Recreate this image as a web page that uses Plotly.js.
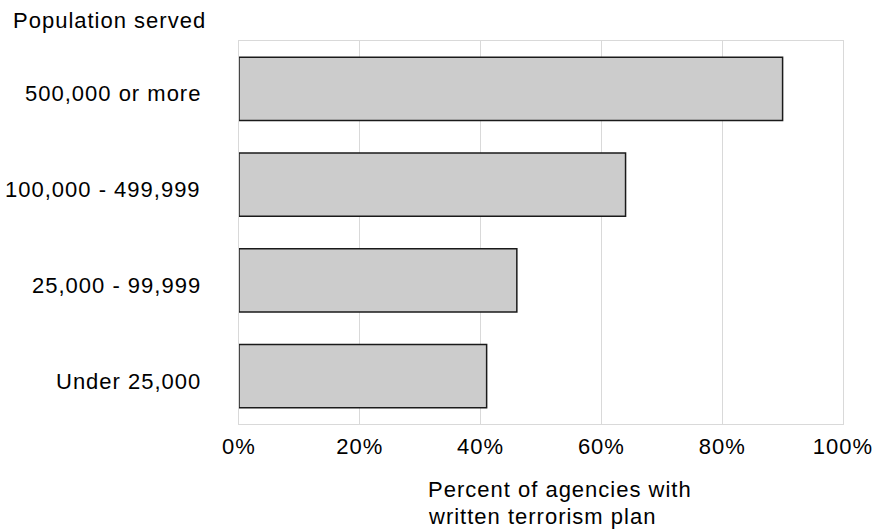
<!DOCTYPE html>
<html>
<head>
<meta charset="utf-8">
<script src="https://cdn.plot.ly/plotly-3.0.1.min.js"></script>
<style>
html,body{margin:0;padding:0;background:#fff;}
svg text{letter-spacing:1px;}
</style>
</head>
<body>
<div id="chart" style="width:874px;height:529px;"></div>
<script>
const categories = ["500,000 or more", "100,000 - 499,999", "25,000 - 99,999", "Under 25,000"];
const percentWithPlan = [90, 64, 46, 41];
const xTickValues = [0, 20, 40, 60, 80, 100];
const yTitle = "Population served";
const xTitleLines = ["Percent of agencies with", "written terrorism plan"];

const FONT = "Liberation Sans, Arial, Helvetica, sans-serif";
const FS = 22;
const W = 874, H = 529;
const L = 239, R = 31, T = 41, B = 105;
const pw = W - L - R, ph = H - T - B;
const px2x = px => (px - L) / pw;
const py2y = py => (H - B - py) / ph;

const trace = {
  type: "bar",
  orientation: "h",
  y: categories,
  x: percentWithPlan,
  marker: { color: "#cccccc", line: { color: "#1a1a1a", width: 1.5 } },
  hoverinfo: "x+y"
};

const annotations = categories.map(c => ({
  text: c,
  xref: "paper", yref: "y",
  x: px2x(203), y: c,
  xanchor: "right", yanchor: "middle",
  yshift: -5,
  showarrow: false,
  font: { family: FONT, size: FS, color: "#000" }
}));

annotations.push({
  text: yTitle,
  xref: "paper", yref: "paper",
  x: px2x(11), y: py2y(21),
  xanchor: "left", yanchor: "middle",
  showarrow: false,
  font: { family: FONT, size: FS, color: "#000" }
});
xTitleLines.forEach((t, i) => annotations.push({
  text: t,
  xref: "paper", yref: "paper",
  x: px2x(426), y: py2y(489 + 27 * i),
  xanchor: "left", yanchor: "middle",
  showarrow: false,
  font: { family: FONT, size: FS, color: "#000" }
}));

const layout = {
  width: W, height: H,
  margin: { l: L, r: R, t: T, b: B, pad: 0 },
  paper_bgcolor: "#ffffff",
  plot_bgcolor: "#ffffff",
  showlegend: false,
  bargap: 0.34,
  font: { family: FONT, size: FS, color: "#000" },
  xaxis: {
    range: [0, 100],
    tickvals: xTickValues,
    ticktext: xTickValues.map(v => v + "%"),
    showgrid: true, gridcolor: "#d9d9d9", gridwidth: 1,
    zeroline: false,
    showline: true, mirror: true, linecolor: "#d9d9d9", linewidth: 1,
    ticks: "", ticklabelstandoff: 3,
    tickfont: { family: FONT, size: FS, color: "#000" },
    fixedrange: true
  },
  yaxis: {
    type: "category",
    categoryorder: "array",
    categoryarray: categories.slice().reverse(),
    showgrid: false, zeroline: false,
    showline: true, mirror: true, linecolor: "#d9d9d9", linewidth: 1,
    ticks: "", showticklabels: false,
    fixedrange: true
  },
  annotations: annotations
};

Plotly.newPlot("chart", [trace], layout, { displayModeBar: false, staticPlot: true });
</script>
</body>
</html>
